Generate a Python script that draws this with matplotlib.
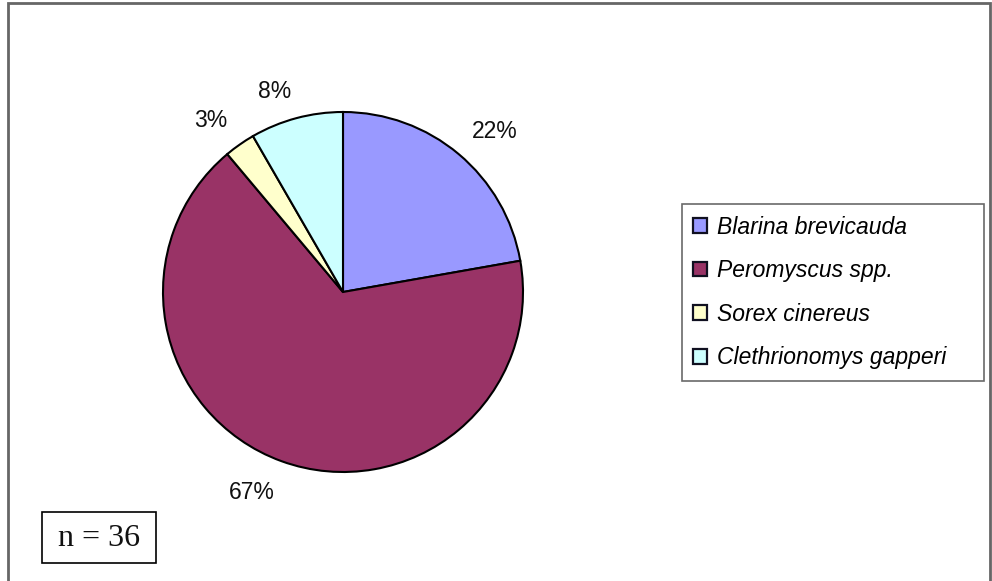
import numpy as np
import matplotlib.pyplot as plt
from matplotlib.patches import Rectangle

# trap counts per species (n = 36)
species = ['Blarina brevicauda', 'Peromyscus spp.', 'Sorex cinereus', 'Clethrionomys gapperi']
counts = [8, 24, 1, 3]
colours = ['#9999FF', '#993366', '#FFFFCC', '#CCFFFF']
sample_label = 'n = 36'

fig_w, fig_h = 992, 581
pie_centre = (343, 289)
pie_radius = 180
label_gap = 21

fig = plt.figure(figsize=(fig_w / 100, fig_h / 100), dpi=100)
# one axes over the whole figure, one data unit per pixel
ax = fig.add_axes([0, 0, 1, 1])

wedges, texts, autotexts = ax.pie(
    counts, colors=colours, startangle=90, counterclock=False,
    center=pie_centre, radius=pie_radius,
    autopct='%1.0f%%',
    wedgeprops=dict(edgecolor='black', linewidth=1.5),
    textprops=dict(fontsize=16.5, family='Liberation Sans', color='#111111'))

# put each percentage just outside the rim, corner nearest the pie at the anchor
for w, t in zip(wedges, autotexts):
    mid = np.deg2rad((w.theta1 + w.theta2) / 2)
    ux, uy = np.cos(mid), np.sin(mid)
    t.set_position((pie_centre[0] + (pie_radius + label_gap) * ux,
                    pie_centre[1] + (pie_radius + label_gap) * uy))
    t.set_ha('left' if ux >= 0 else 'right')
    t.set_va('baseline' if uy >= 0 else 'top')

ax.set_aspect('auto')
ax.set_xlim(0, fig_w)
ax.set_ylim(0, fig_h)
ax.axis('off')

# outer chart border (bottom edge runs off the image)
ax.add_patch(Rectangle((8, -5), 982, 583, fill=False,
                       edgecolor='#666666', linewidth=2, zorder=10))

# sample size box
ax.add_patch(Rectangle((42, fig_h - 563), 114, 51, fill=False,
                       edgecolor='black', linewidth=1.2))
ax.text(99, fig_h - 538, sample_label, ha='center', va='center',
        fontsize=23, family='Liberation Serif', color='#111111')

leg = ax.legend(wedges, species, loc='center', mode='expand',
                bbox_to_anchor=(682 / fig_w, 1 - 292.5 / fig_h, 302 / fig_w, 0),
                bbox_transform=fig.transFigure,
                frameon=True, fancybox=False, shadow=False,
                prop=dict(family='Liberation Sans', style='italic', size=16.5),
                handlelength=0.6, handleheight=0.6, handletextpad=0.44,
                labelspacing=0.9, borderpad=0.5, borderaxespad=0)
leg.get_frame().set_edgecolor('#444444')
leg.get_frame().set_linewidth(1.2)
for h in leg.legend_handles:
    h.set_linewidth(1.6)
    h.set_edgecolor('#101020')

fig.savefig('out.png', dpi=100)
